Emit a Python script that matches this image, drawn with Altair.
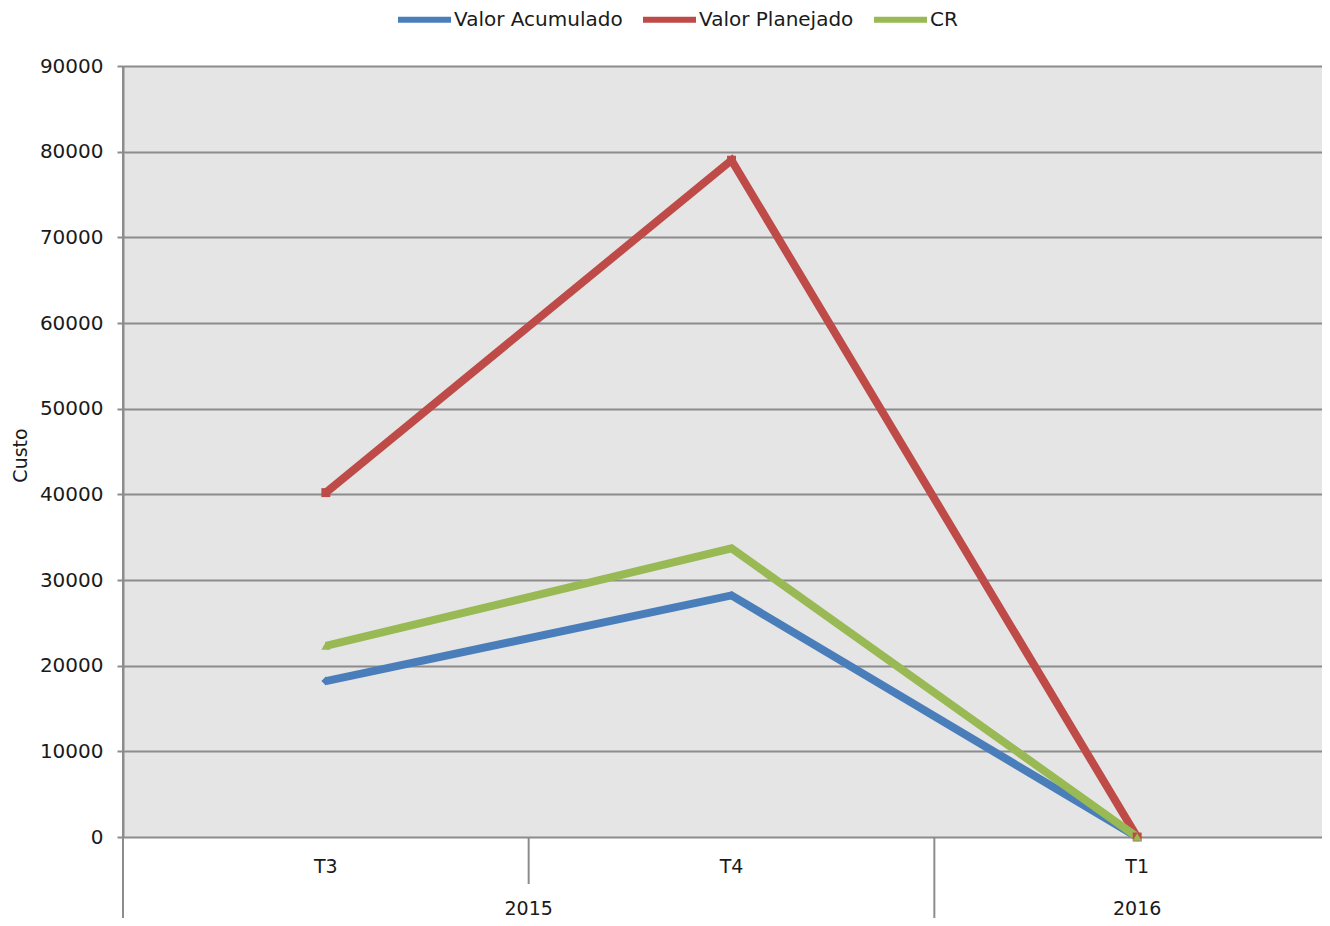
import altair as alt
import pandas as pd

categories = ["T3", "T4", "T1"]
category_pos = [0.5, 1.5, 2.5]
series_names = ["Valor Acumulado", "Valor Planejado", "CR"]
valor_acumulado = [18200, 28200, 0]
valor_planejado = [40200, 79000, 0]
cr = [22300, 33700, 0]
year_labels = ["2015", "2016"]
year_pos = [1.0, 2.5]
short_dividers = [1]
long_dividers = [2]
left_edge = [0]
colors = ["#4A7EBB", "#BE4B48", "#98B954"]
shapes = ["diamond", "square", "triangle-up"]

rows = []
for i, cat in enumerate(categories):
    for name, vals in zip(series_names, [valor_acumulado, valor_planejado, cr]):
        rows.append({"pos": category_pos[i], "cat": cat, "serie": name, "valor": vals[i]})
df = pd.DataFrame(rows)
cat_df = pd.DataFrame({"pos": category_pos, "label": categories})
year_df = pd.DataFrame({"pos": year_pos, "label": year_labels})
short_df = pd.DataFrame({"pos": short_dividers})
long_df = pd.DataFrame({"pos": long_dividers})
left_df = pd.DataFrame({"pos": left_edge})

W, H = 1199, 771
XMAX = 2.9556
FONT = "DejaVu Sans"
GRID = "#8C8C8C"
TXT = "#1a1a1a"

xscale = alt.Scale(domain=[0, XMAX], nice=False, zero=False)
yscale = alt.Scale(domain=[0, 90000], nice=False)

x_enc = alt.X("pos:Q", scale=xscale, axis=None)
y_enc = alt.Y(
    "valor:Q",
    scale=yscale,
    axis=alt.Axis(
        values=list(range(0, 90001, 10000)),
        format="d",
        grid=True,
        gridColor=GRID,
        gridWidth=2,
        domainColor=GRID,
        domainWidth=2,
        tickColor=GRID,
        tickWidth=2,
        tickSize=6,
        labelPadding=14,
        labelFont=FONT,
        labelFontSize=20,
        labelColor=TXT,
        title="Custo",
        titleFont=FONT,
        titleFontSize=19,
        titleFontWeight="normal",
        titleColor=TXT,
        titleX=-103,
        titleY=389,
        titleAlign="center",
        titleBaseline="middle",
    ),
)

lines = alt.Chart(df).mark_line(strokeWidth=8).encode(
    x=x_enc,
    y=y_enc,
    color=alt.Color(
        "serie:N",
        scale=alt.Scale(domain=series_names, range=colors),
        legend=alt.Legend(
            title=None,
            orient="none",
            direction="horizontal",
            legendX=272,
            legendY=-76,
            symbolType="stroke",
            symbolSize=2809,
            symbolStrokeWidth=6,
            labelFont=FONT,
            labelFontSize=20,
            labelColor=TXT,
            labelOffset=0,
            labelLimit=400,
            columnPadding=8,
            padding=0,
        ),
    ),
    detail="serie:N",
)

point_layers = []
for name, color, shape in zip(series_names, colors, shapes):
    point_layers.append(
        alt.Chart(df)
        .transform_filter(alt.datum.serie == name)
        .mark_point(filled=True, size=80, opacity=1, strokeWidth=0, color=color, shape=shape)
        .encode(x=x_enc, y=alt.Y("valor:Q", scale=yscale))
    )

short_rules = alt.Chart(short_df).mark_rule(color=GRID, strokeWidth=2).encode(
    x=alt.X("pos:Q", scale=xscale), y=alt.value(H), y2=alt.value(H + 47)
)
long_rules = alt.Chart(long_df).mark_rule(color=GRID, strokeWidth=2).encode(
    x=alt.X("pos:Q", scale=xscale), y=alt.value(H), y2=alt.value(H + 90)
)
left_rule = alt.Chart(left_df).mark_rule(color=GRID, strokeWidth=2).encode(
    x=alt.X("pos:Q", scale=xscale), y=alt.value(0), y2=alt.value(H + 90)
)

cat_text = alt.Chart(cat_df).mark_text(
    font=FONT, fontSize=19, color=TXT, baseline="middle", align="center"
).encode(x=alt.X("pos:Q", scale=xscale), y=alt.value(H + 30), text="label:N")

year_text = alt.Chart(year_df).mark_text(
    font=FONT, fontSize=19, color=TXT, baseline="middle", align="center"
).encode(x=alt.X("pos:Q", scale=xscale), y=alt.value(H + 72), text="label:N")

chart = (
    alt.layer(lines, *point_layers, short_rules, long_rules, left_rule, cat_text, year_text)
    .properties(
        width=W,
        height=H,
        autosize=alt.AutoSizeParams(type="none"),
        padding={"left": 115, "top": 58, "right": 0, "bottom": 81},
        background="white",
    )
    .configure_view(fill="#E5E5E5", stroke=None)
)

chart.save("out.html", embed_options={"renderer": "svg", "actions": False})
